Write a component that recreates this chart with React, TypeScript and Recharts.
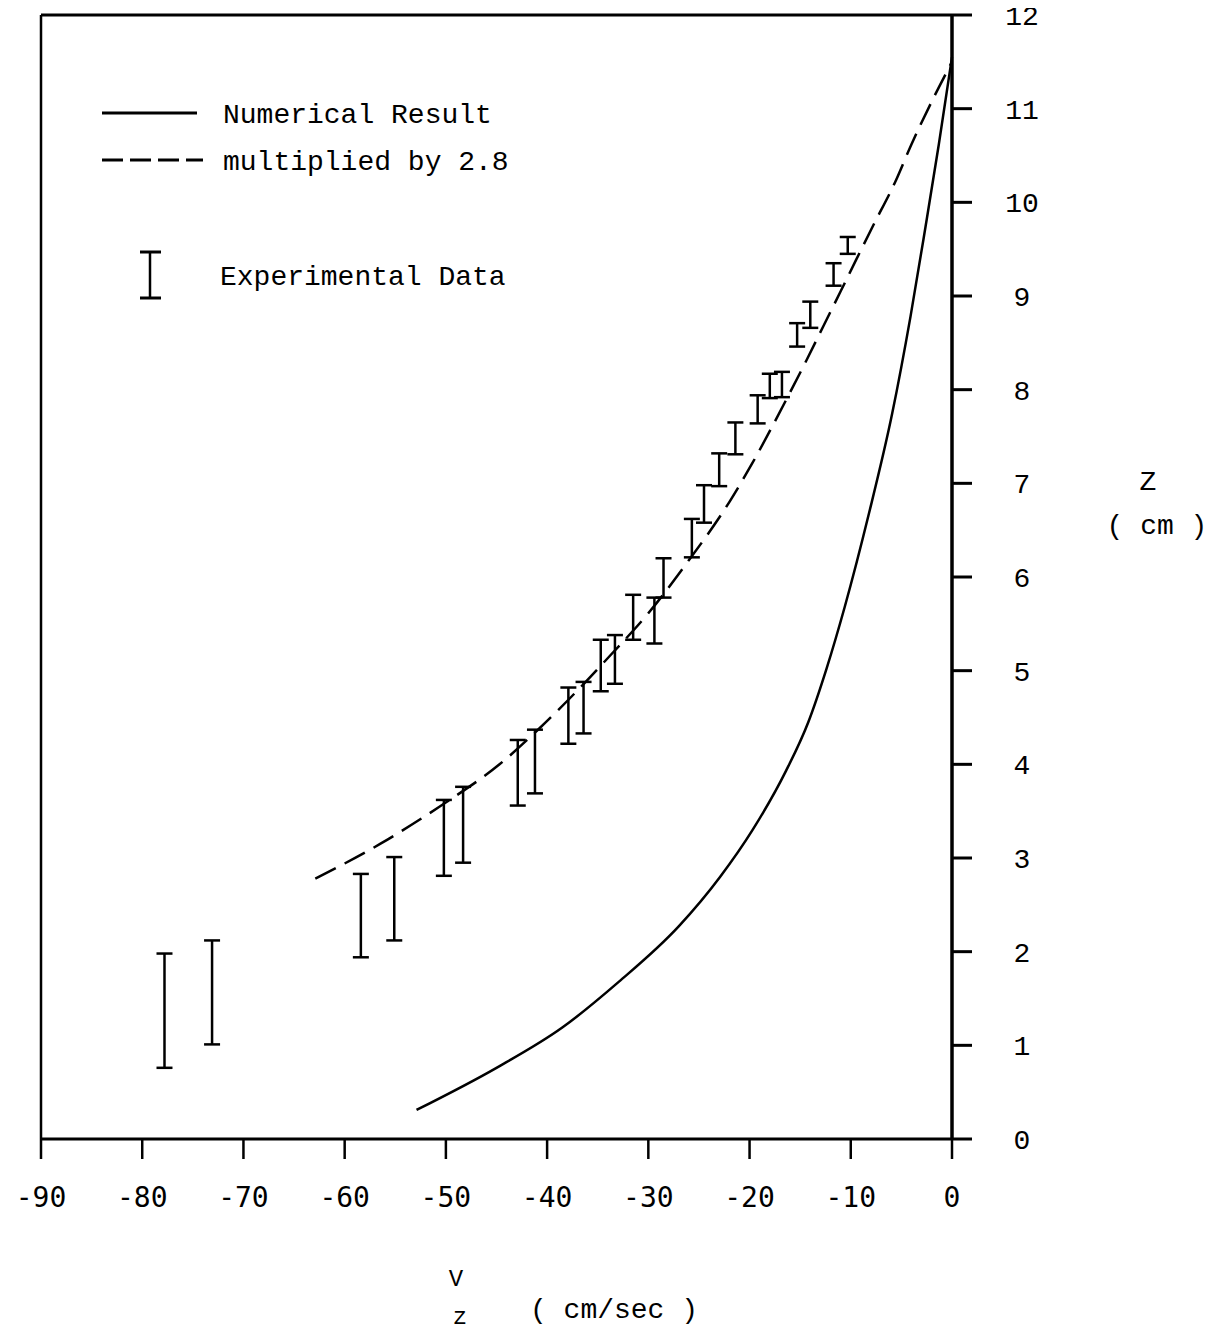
import React from "react";
import {
  ComposedChart,
  Line,
  Scatter,
  ErrorBar,
  XAxis,
  YAxis,
  ReferenceLine,
  Legend,
} from "recharts";

// numerical result (solid)
const solidV = [-52.9, -45.0, -38.5, -32.9, -27.0, -22.9, -19.7, -16.4, -14.2, -12.4, -10.6, -8.2, -5.9, -4.1, -2.6, -1.3, 0];
const solidZ = [0.31, 0.76, 1.19, 1.68, 2.27, 2.8, 3.3, 3.93, 4.45, 5.02, 5.68, 6.68, 7.75, 8.78, 9.75, 10.62, 11.55];

// multiplied by 2.8 (dashed)
const dashV = [-62.9, -56.5, -52.3, -49.9, -44.7, -40.8, -36.9, -33.7, -30.1, -26.4, -22.0, -19.7, -17.5, -16.2, -14.3, -12.7, -11.0, -9.5, -7.8, -5.6, -4.0, -1.8, 0];
const dashZ = [2.78, 3.15, 3.43, 3.6, 4.0, 4.38, 4.8, 5.17, 5.6, 6.12, 6.8, 7.22, 7.66, 7.93, 8.33, 8.68, 9.05, 9.38, 9.75, 10.22, 10.62, 11.12, 11.5];

// experimental data (error bars)
const barV = [-77.8, -73.1, -58.4, -55.1, -50.2, -48.3, -42.9, -41.2, -37.9, -36.4, -34.7, -33.3, -31.5, -29.4, -28.5, -25.7, -24.5, -23.0, -21.4, -19.2, -18.0, -16.8, -15.3, -14.0, -11.7, -10.3];
const barLow = [0.76, 1.01, 1.94, 2.12, 2.81, 2.95, 3.56, 3.69, 4.22, 4.33, 4.78, 4.86, 5.33, 5.29, 5.78, 6.21, 6.58, 6.97, 7.31, 7.64, 7.91, 7.92, 8.46, 8.66, 9.11, 9.45];
const barHigh = [1.98, 2.12, 2.83, 3.01, 3.62, 3.76, 4.26, 4.37, 4.82, 4.88, 5.33, 5.38, 5.81, 5.78, 6.2, 6.62, 6.98, 7.32, 7.65, 7.94, 8.17, 8.19, 8.71, 8.94, 9.35, 9.63];

const xTicks = [-90, -80, -70, -60, -50, -40, -30, -20, -10, 0];
const yTicks = [0, 1, 2, 3, 4, 5, 6, 7, 8, 9, 10, 11, 12];

const solidData = solidV.map((v, i) => ({ v, z: solidZ[i] }));
const dashData = dashV.map((v, i) => ({ v, z: dashZ[i] }));
const barData = barV.map((v, i) => ({ v, z: barLow[i], err: [0, barHigh[i] - barLow[i]] }));

const mono = "'Liberation Mono', 'Courier New', monospace";
const sansMono = "'DejaVu Sans Mono', monospace";

const XTick = ({ x, y, payload }: any) => (
  <text x={x} y={y + 48} textAnchor="middle" fontFamily={sansMono} fontSize={28} fill="#000">
    {payload.value}
  </text>
);

const YTick = ({ x, y, payload }: any) => (
  <text x={x + 50} y={y} dy="0.36em" textAnchor="middle" fontFamily={mono} fontSize={28} fill="#000">
    {payload.value}
  </text>
);

const legendRows: Record<string, { y: number; tx: number; ty: number }> = {
  "Numerical Result": { y: 113, tx: 223, ty: 123 },
  "multiplied by 2.8": { y: 160, tx: 223, ty: 170 },
  "Experimental Data": { y: 275, tx: 220, ty: 285 },
};

const LegendBox = ({ payload }: any) => (
  <svg width={560} height={320} style={{ display: "block" }}>
    {(payload || []).map((entry: any) => {
      const row = legendRows[entry.value];
      if (!row) return null;
      const dashed = !!entry.payload?.strokeDasharray;
      return (
        <g key={entry.value}>
          {entry.type === "line" ? (
            <line
              x1={102}
              x2={dashed ? 203 : 197}
              y1={row.y}
              y2={row.y}
              stroke="#000"
              strokeWidth={3}
              strokeDasharray={dashed ? "21 7" : undefined}
            />
          ) : (
            <g stroke="#000" strokeWidth={2.5}>
              <line x1={150} x2={150} y1={252} y2={298} />
              <line x1={140} x2={161} y1={252} y2={252} strokeWidth={3} />
              <line x1={140} x2={161} y1={298} y2={298} strokeWidth={3} />
            </g>
          )}
          <text x={row.tx} y={row.ty} fontFamily={mono} fontSize={28} fill="#000">
            {entry.value}
          </text>
        </g>
      );
    })}
  </svg>
);

const XTitle = () => (
  <g fill="#000" fontFamily={mono}>
    <text x={456} y={1286} fontSize={24} textAnchor="middle">V</text>
    <text x={460} y={1324} fontSize={24} textAnchor="middle">z</text>
    <text x={530} y={1318} fontSize={28}>( cm/sec )</text>
  </g>
);

const YTitle = () => (
  <g fill="#000" fontFamily={mono} fontSize={28} textAnchor="middle">
    <text x={1148} y={490}>Z</text>
    <text x={1157} y={534}>( cm )</text>
  </g>
);

export default function App() {
  return (
    <div style={{ margin: -8, width: 1225, height: 1333, background: "#fff" }}>
      <ComposedChart
        width={1225}
        height={1333}
        margin={{ top: 15, left: 41, right: 173, bottom: 134 }}
      >
        <XAxis
          dataKey="v"
          type="number"
          domain={[-90, 0]}
          ticks={xTicks}
          interval={0}
          height={60}
          tickSize={20}
          tickMargin={0}
          axisLine={{ stroke: "#000", strokeWidth: 3 }}
          tickLine={{ stroke: "#000", strokeWidth: 2.5 }}
          tick={<XTick />}
          label={{ content: <XTitle /> }}
        />
        <YAxis
          orientation="right"
          type="number"
          domain={[0, 12]}
          ticks={yTicks}
          interval={0}
          width={100}
          tickSize={20}
          tickMargin={0}
          axisLine={{ stroke: "#000", strokeWidth: 3.5 }}
          tickLine={{ stroke: "#000", strokeWidth: 3 }}
          tick={<YTick />}
          label={{ content: <YTitle /> }}
        />
        <ReferenceLine y={12} stroke="#000" strokeWidth={3} />
        <ReferenceLine x={-90} stroke="#000" strokeWidth={2.5} />
        <Line
          data={solidData}
          dataKey="z"
          name="Numerical Result"
          type="monotone"
          stroke="#000"
          strokeWidth={2.5}
          dot={false}
          activeDot={false}
          legendType="line"
          isAnimationActive={false}
        />
        <Line
          data={dashData}
          dataKey="z"
          name="multiplied by 2.8"
          type="monotone"
          stroke="#000"
          strokeWidth={2.5}
          strokeDasharray="23 10"
          dot={false}
          activeDot={false}
          legendType="line"
          isAnimationActive={false}
        />
        <Scatter
          data={barData}
          dataKey="z"
          name="Experimental Data"
          legendType="rect"
          fill="#000"
          shape={() => <g />}
          isAnimationActive={false}
        >
          <ErrorBar dataKey="err" direction="y" width={8} stroke="#000" strokeWidth={2.5} isAnimationActive={false} />
        </Scatter>
        <Legend
          content={<LegendBox />}
          layout="horizontal"
          verticalAlign="middle"
          align="center"
          wrapperStyle={{ left: 0, top: 0, width: 560, height: 320 }}
        />
      </ComposedChart>
    </div>
  );
}
